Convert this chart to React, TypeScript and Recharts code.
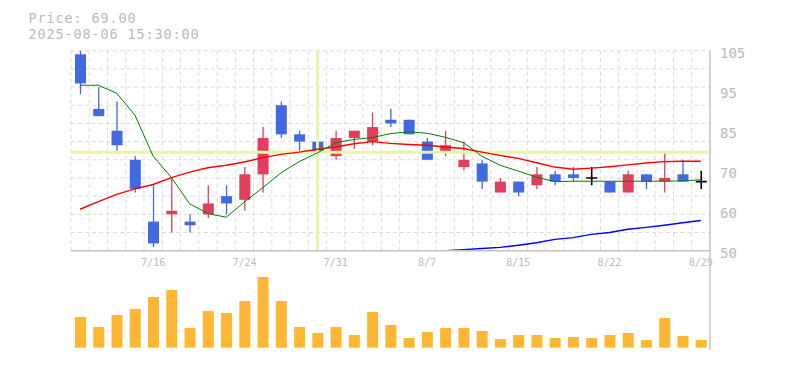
import React from 'react';
import { ComposedChart, Bar, Line, XAxis, YAxis, CartesianGrid, ReferenceLine } from 'recharts';

// ---- data ----
const dates = ['7/10','7/11','7/14','7/15','7/16','7/17','7/18','7/22','7/23','7/24','7/25','7/28','7/29','7/30','7/31','8/1','8/4','8/5','8/6','8/7','8/8','8/12','8/13','8/14','8/15','8/18','8/19','8/20','8/21','8/22','8/25','8/26','8/27','8/28','8/29'];
const opens  = [104, 89, 83, 75, 58, 60, 58, 60, 65, 64, 71, 90, 82, 80, 76, 81, 80, 86, 86, 80, 77, 73, 74, 66, 69, 68, 71, 71, 70, 69, 66, 71, 69, 71, 69];
const highs  = [105, 95, 91, 76, 68, 70, 60, 68, 68, 73, 84, 91, 83, 80, 83, 83, 88, 89, 86, 81, 83, 80, 75, 70, 69, 73, 72, 73, 73, 69, 72, 71, 77, 75, 72];
const lows   = [93, 87, 77, 66, 51, 55, 55, 59, 60, 61, 66, 81, 77, 75, 75, 78, 79, 84, 82, 75, 76, 72, 67, 66, 65, 67, 68, 69, 68, 66, 66, 67, 66, 69, 67];
const closes = [96, 87, 79, 67, 52, 61, 57, 63, 63, 71, 81, 82, 80, 77, 81, 83, 84, 85, 82, 75, 79, 75, 69, 69, 66, 71, 69, 70, 70, 66, 71, 69, 70, 69, 69];
const ma5  = [95.5, 95.5, 93.3, 87.3, 76.0, 70.1, 62.9, 60.2, 59.2, 63.4, 67.3, 71.4, 74.5, 76.9, 79.7, 80.6, 81.1, 82.2, 82.7, 82.3, 81.2, 79.7, 76.0, 73.5, 71.9, 70.2, 69.0, 69.1, 69.1, 69.1, 69.1, 69.1, 69.1, 69.2, 69.5];
const ma25 = [61.4, 63.5, 65.5, 67.0, 68.2, 70.1, 71.6, 72.8, 73.5, 74.4, 75.6, 76.5, 77.1, 77.9, 78.5, 79.4, 80.0, 79.5, 79.2, 79.0, 78.5, 78.1, 77.1, 76.2, 75.4, 74.2, 73.0, 72.4, 72.7, 73.1, 73.6, 74.1, 74.5, 74.6, 74.6];
const ma75 = [null, null, null, null, null, null, null, null, null, null, null, null, null, null, null, null, null, null, null, null, 50.0, 50.3, 50.6, 50.9, 51.5, 52.2, 53.1, 53.6, 54.5, 55.0, 55.9, 56.4, 57.0, 57.7, 58.3];
const volumes = [3160, 2130, 3370, 3990, 5230, 5950, 2030, 3780, 3580, 4810, 7290, 4810, 2130, 1520, 2130, 1310, 3680, 2340, 1000, 1620, 2030, 2030, 1720, 900, 1310, 1310, 1000, 1100, 1000, 1310, 1520, 790, 3060, 1210, 790];

const xTickLabels = ['7/16', '7/24', '7/31', '8/7', '8/15', '8/22', '8/29'];
const yTicks = [50, 61, 72, 83, 94, 105];
const yTickLabels = ['50', '60', '70', '85', '95', '105'];
const priceGrid = [50, 55, 60, 65, 70, 75, 80, 85, 90, 95, 100, 105];
const priceDomain = [50, 105];
const volumeDomain = [-237, 10000];
const crossDate = '7/30';
const crossPrice = 77.1;
const infoPrice = 'Price: 69.00';
const infoTime = '2025-08-06 15:30:00';

const data = dates.map((d, i) => ({
  i,
  date: d,
  open: opens[i],
  high: highs[i],
  low: lows[i],
  close: closes[i],
  ma5: ma5[i],
  ma25: ma25[i],
  ma75: ma75[i],
  volume: volumes[i],
}));

const xTicks = xTickLabels.map((l) => dates.indexOf(l));
const boundaries = [...dates.map((_, i) => i - 0.5), dates.length - 0.5];
const xDomain = [-0.5, dates.length - 0.5];

// ---- style ----
const MONO = '"DejaVu Sans Mono", monospace';
const TEXT = '#bbbbbb';
const AXIS = '#c4c4c4';
const GRID = '#dcdcdc';
const UP = '#e0405e';
const DOWN = '#4169e1';
const CROSS = '#e6f5a6';

const Candle = (props: any) => {
  const { x, y, width, height, payload } = props;
  if (x == null || y == null || !payload) return null;
  const top = Math.min(y, y + height);
  const h = Math.abs(height);
  const { open, close, high, low } = payload;
  const range = high - low;
  const ppu = range > 0 ? h / range : 0;
  const yOf = (v: number) => top + (high - v) * ppu;
  const cx = x + width / 2;
  if (open === close) {
    const yc = yOf(open);
    return (
      <g>
        <line x1={cx} x2={cx} y1={top} y2={top + h} stroke="#000" strokeWidth={1.6} />
        <line x1={x} x2={x + width} y1={yc} y2={yc} stroke="#000" strokeWidth={1.6} />
      </g>
    );
  }
  const color = close > open ? UP : DOWN;
  const bt = yOf(Math.max(open, close));
  const bb = yOf(Math.min(open, close));
  return (
    <g>
      <line x1={cx} x2={cx} y1={top} y2={top + h} stroke={color} strokeWidth={1.3} />
      <rect x={x} y={bt} width={width} height={Math.max(1, bb - bt)} fill={color} />
    </g>
  );
};

const YTick = (props: any) => {
  const { x, y, payload } = props;
  const idx = yTicks.indexOf(payload.value);
  return (
    <text x={x} y={y + 2} dy="0.355em" textAnchor="start" fill={TEXT} fontSize={14} fontFamily={MONO}>
      {yTickLabels[idx]}
    </text>
  );
};

const infoStyle: React.CSSProperties = {
  position: 'absolute',
  left: 28.5,
  height: 13,
  fontFamily: MONO,
  fontSize: 13.5,
  letterSpacing: 0.87,
  lineHeight: '13px',
  color: TEXT,
  whiteSpace: 'pre',
};

export default function App() {
  return (
    <div style={{ position: 'absolute', left: 0, top: 0, width: 785, height: 370, background: '#fff' }}>
      <div style={{ position: 'absolute', left: 0, top: 0 }}>
        <ComposedChart width={785} height={370} data={data} margin={{ top: 50.7, right: 0, bottom: 89.3, left: 71 }}>
          <CartesianGrid stroke={GRID} strokeDasharray="4 3" horizontalValues={priceGrid} verticalValues={boundaries} />
          <XAxis
            type="number"
            dataKey="i"
            domain={xDomain}
            ticks={xTicks}
            interval={0}
            tickFormatter={(v: number) => dates[v]}
            tickLine={false}
            tickSize={0}
            tickMargin={8}
            height={30}
            axisLine={{ stroke: AXIS, strokeWidth: 1.5 }}
            tick={{ fill: TEXT, fontSize: 10, fontFamily: MONO }}
            allowDataOverflow
          />
          <YAxis
            orientation="right"
            type="number"
            domain={priceDomain}
            ticks={yTicks}
            interval={0}
            width={75}
            tickLine={false}
            tickSize={0}
            tickMargin={10}
            axisLine={{ stroke: AXIS, strokeWidth: 1.5 }}
            tick={<YTick />}
            allowDataOverflow
          />
          <ReferenceLine x={dates.indexOf(crossDate)} stroke={CROSS} strokeWidth={3} />
          <ReferenceLine y={crossPrice} stroke={CROSS} strokeWidth={3} />
          <Line dataKey="ma75" stroke="#0000ff" strokeWidth={1.4} dot={false} activeDot={false} isAnimationActive={false} />
          <Line dataKey="ma25" stroke="#ff0000" strokeWidth={1.4} dot={false} activeDot={false} isAnimationActive={false} />
          <Line dataKey="ma5" stroke="#008000" strokeWidth={1} dot={false} activeDot={false} isAnimationActive={false} />
          <Bar dataKey={(d: any) => [d.low, d.high]} barSize={11} shape={(p: any) => <Candle {...p} />} isAnimationActive={false} />
        </ComposedChart>
      </div>
      <div style={{ position: 'absolute', left: 0, top: 0 }}>
        <ComposedChart width={785} height={370} data={data} margin={{ top: 250.7, right: 0, bottom: 20, left: 71 }}>
          <CartesianGrid stroke={GRID} strokeDasharray="4 3" horizontal={false} verticalValues={boundaries} />
          <XAxis
            type="number"
            dataKey="i"
            domain={xDomain}
            height={0}
            tick={false}
            tickLine={false}
            axisLine={{ stroke: AXIS, strokeWidth: 1.5 }}
            allowDataOverflow
          />
          <YAxis
            orientation="right"
            type="number"
            domain={volumeDomain}
            width={75}
            tick={false}
            tickLine={false}
            axisLine={{ stroke: AXIS, strokeWidth: 1.5 }}
            allowDataOverflow
          />
          <Bar dataKey="volume" fill="#ffb733" barSize={11} isAnimationActive={false} />
        </ComposedChart>
      </div>
      <div style={{ ...infoStyle, top: 12.1 }}>{infoPrice}</div>
      <div style={{ ...infoStyle, top: 27.9 }}>{infoTime}</div>
    </div>
  );
}
